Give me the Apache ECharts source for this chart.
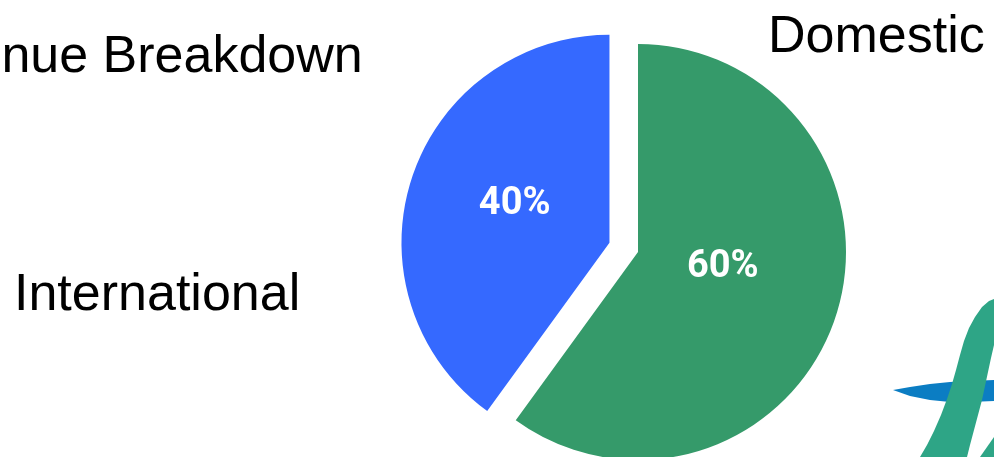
<!DOCTYPE html>
<html>
<head>
<meta charset="utf-8">
<script src="https://cdn.jsdelivr.net/npm/echarts@6/dist/echarts.min.js"></script>
<style>
html,body{margin:0;padding:0;background:#fff;}
#main{width:994px;height:457px;}
</style>
</head>
<body>
<div id="main"></div>
<script>
var chartTitle = 'Revenue Breakdown';
var categories = ['Domestic', 'International'];
var shares = [60, 40];
var sliceColors = ['#359a6a', '#3569ff'];
var explodedIndex = 1;

var chart = echarts.init(document.getElementById('main'), null, {renderer: 'canvas'});
var font = 'Liberation Sans, Arial, Helvetica, sans-serif';
var labelOffsets = [[-17, -18], [7, -5]];

var pieData = categories.map(function (name, i) {
  return {
    name: name,
    value: shares[i],
    selected: i === explodedIndex,
    itemStyle: {color: sliceColors[i]},
    label: {offset: labelOffsets[i]},
    select: {label: {offset: labelOffsets[i]}}
  };
});

var option = {
  backgroundColor: '#ffffff',
  animation: false,
  title: [
    {text: chartTitle, left: -120, top: 32, padding: 0,
     textStyle: {fontFamily: font, fontSize: 52, fontWeight: 'normal', color: '#000'}},
    {text: categories[0], left: 768, top: 12, padding: 0,
     textStyle: {fontFamily: font, fontSize: 52, fontWeight: 'normal', color: '#000'}},
    {text: categories[1], left: 14, top: 270, padding: 0,
     textStyle: {fontFamily: font, fontSize: 52, fontWeight: 'normal', color: '#000'}}
  ],
  graphic: [
    {type: 'polygon', z: 100, silent: true,
     shape: {points: [[893,390],[910,387],[930,384],[950,382],[970,381],[994,380],[994,401],[970,402],[950,402],[930,400],[910,396]]},
     style: {fill: '#0b7dc3'}},
    {type: 'polygon', z: 101, silent: true,
     shape: {points: [[920,457],[927,445],[934,431],[941,415],[947,399],[952,384],[956,370],[960,355],[964,341],[969,328],[975,317],[982,307],[989,301],[994,299],
                      [994,345],[991,358],[988,372],[985,386],[982,400],[978,415],[974,430],[970,445],[967,457]]},
     style: {fill: '#2ea586'}},
    {type: 'polygon', z: 101, silent: true,
     shape: {points: [[980,457],[994,437],[994,457]]},
     style: {fill: '#2ea586'}}
  ],
  series: [{
    type: 'pie',
    center: [638, 252],
    radius: 208,
    startAngle: 90,
    clockwise: true,
    selectedMode: 'single',
    selectedOffset: 30,
    silent: true,
    emphasis: {disabled: true},
    label: {
      show: true,
      position: 'inside',
      formatter: function (p) { return p.value + '%'; },
      color: '#fff',
      fontFamily: 'Roboto, Liberation Sans, sans-serif',
      fontWeight: 'bold',
      fontSize: 38
    },
    labelLine: {show: false},
    itemStyle: {borderWidth: 0},
    data: pieData
  }]
};
chart.setOption(option);
</script>
</body>
</html>
